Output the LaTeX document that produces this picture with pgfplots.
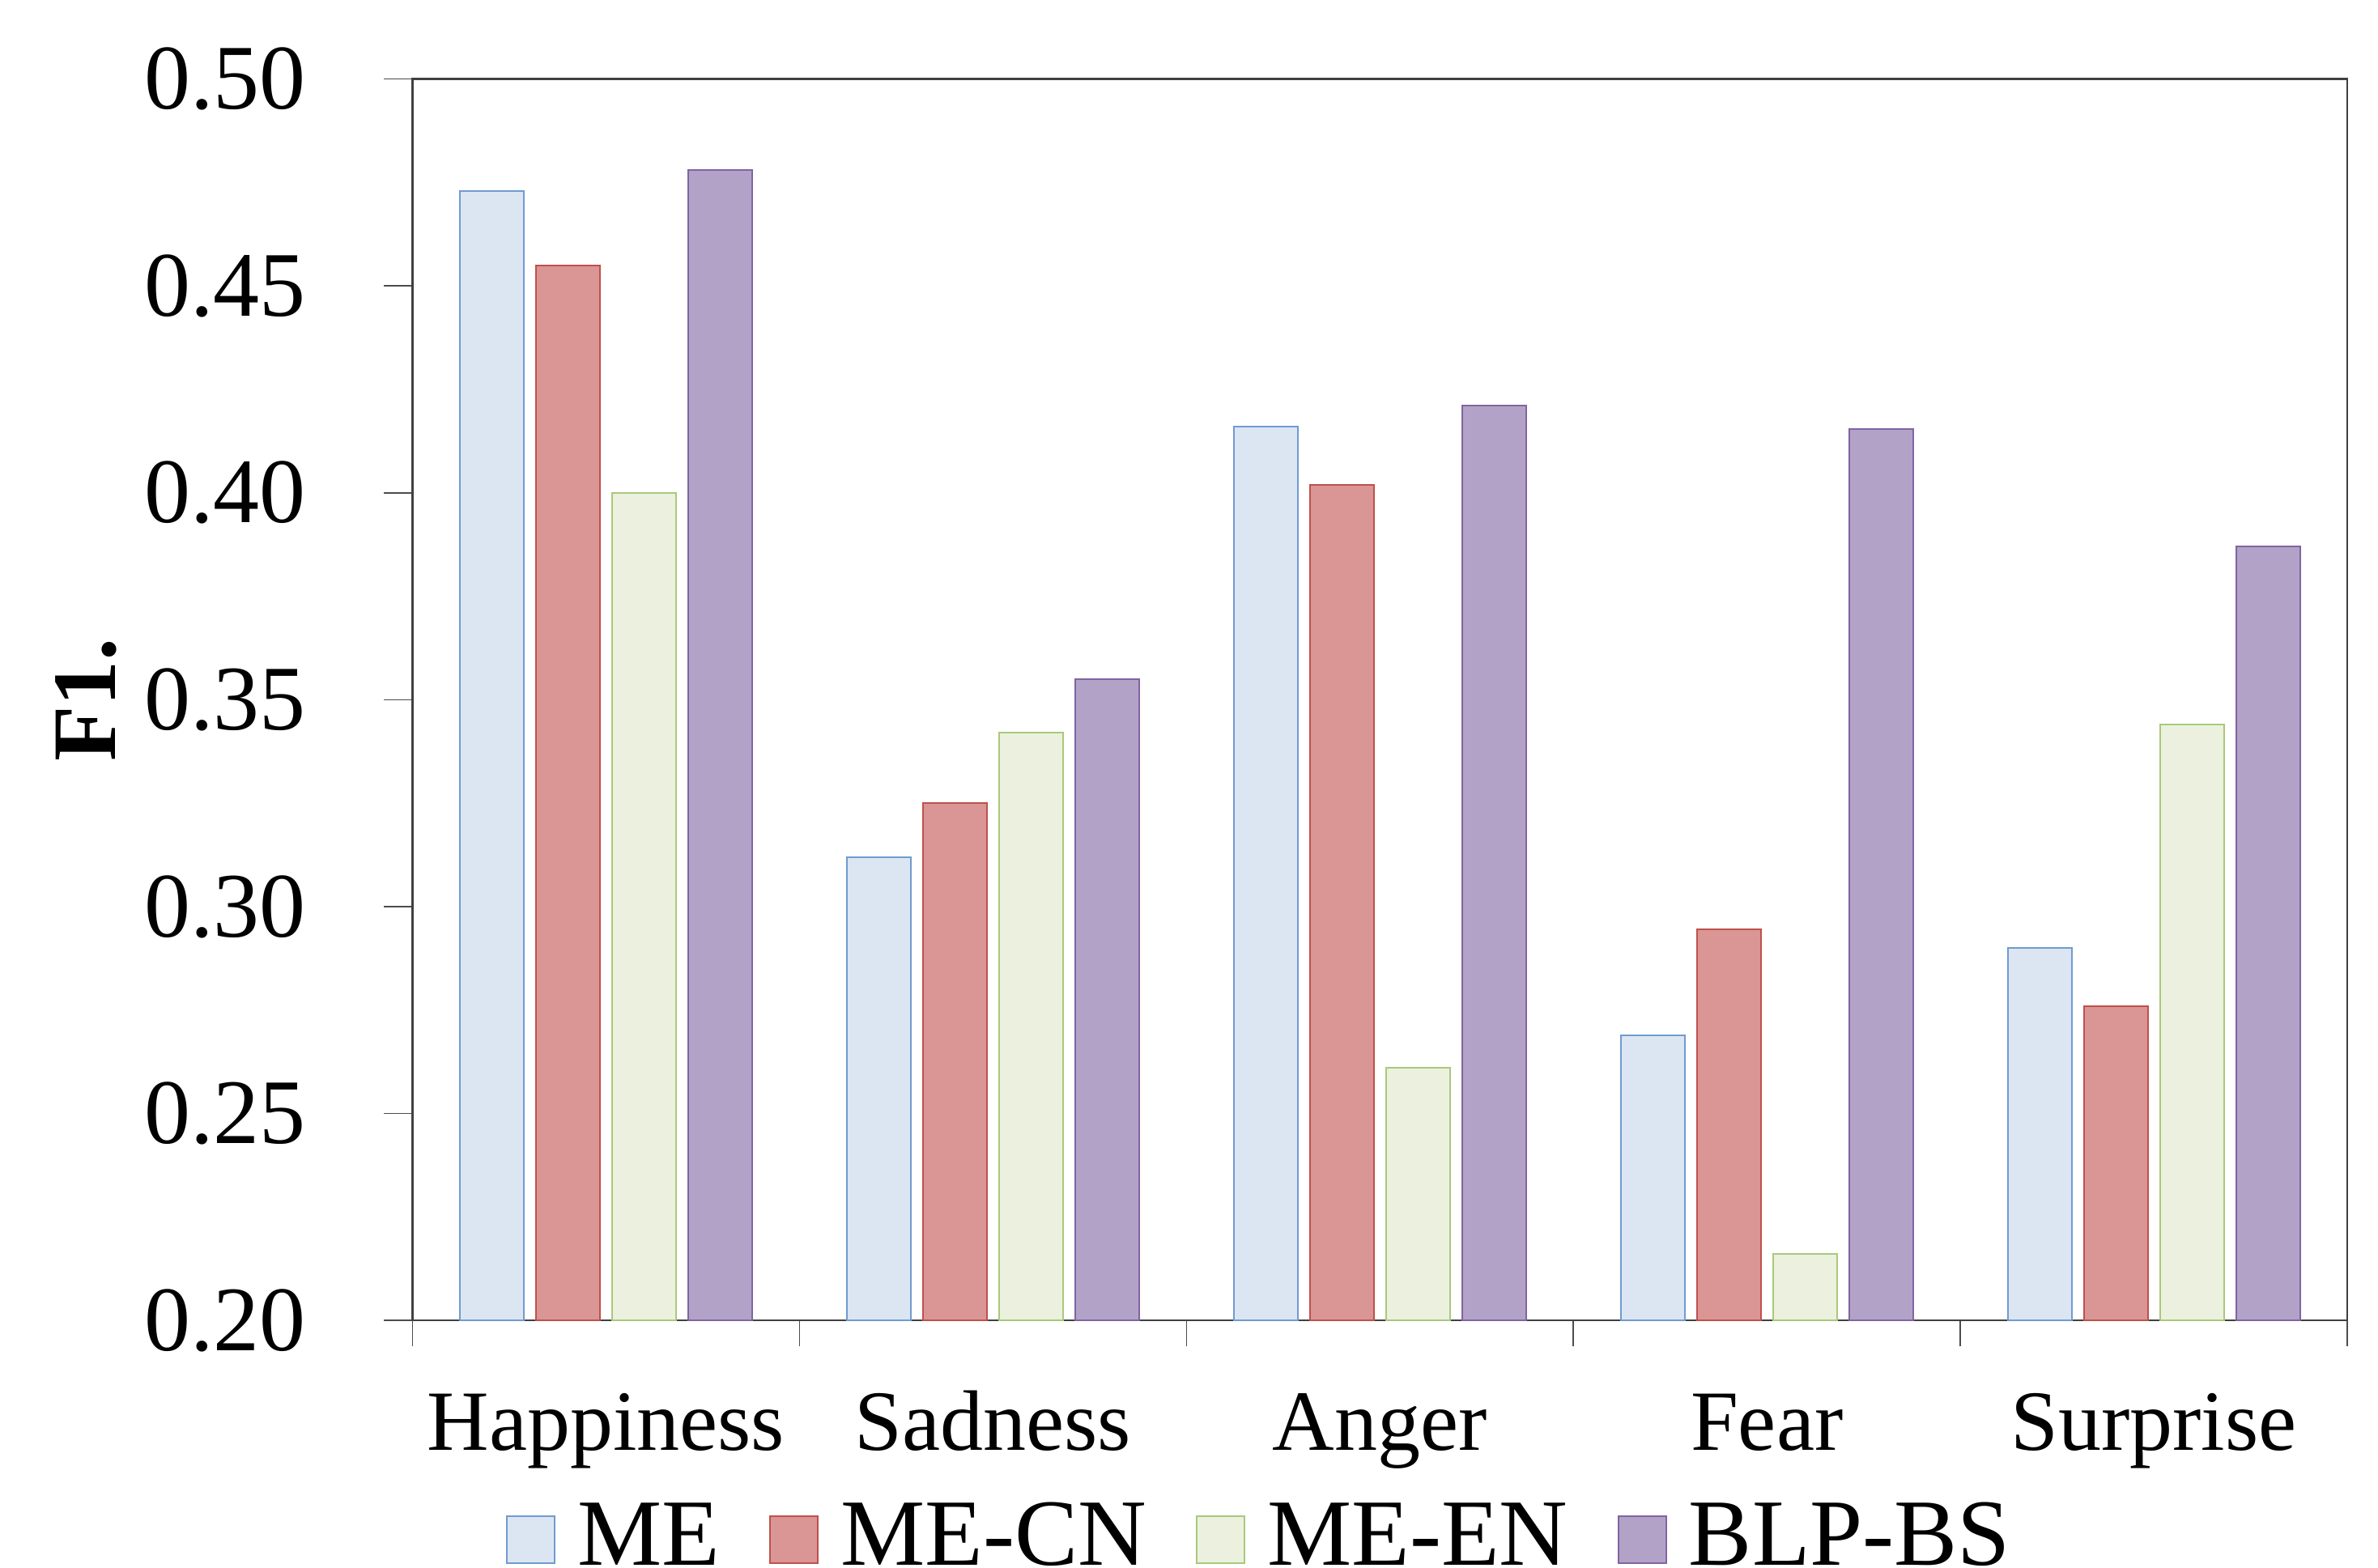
\documentclass[border=0pt]{standalone}
\usepackage{fontspec}
\setmainfont{Liberation Serif}
\usepackage{pgfplots}
\pgfplotsset{compat=1.18}
\definecolor{meF}{HTML}{DCE6F2}\definecolor{meD}{HTML}{6F9BD1}
\definecolor{cnF}{HTML}{D99694}\definecolor{cnD}{HTML}{C0504D}
\definecolor{enF}{HTML}{EBF1DE}\definecolor{enD}{HTML}{A9C97A}
\definecolor{bsF}{HTML}{B3A2C7}\definecolor{bsD}{HTML}{8064A2}
\begin{document}
\begin{tikzpicture}
\begin{axis}[
  scale only axis, width=597.5pt, height=383.5pt,
  xmin=-0.5, xmax=4.5, ymin=0.2, ymax=0.5,
  ybar=3.75pt, bar width=19.75pt,
  axis line style={draw=black!75, line width=0.6pt},
  xtick={0,1,2,3,4},
  xticklabels={Happiness,Sadness,Anger,Fear,Surprise},
  major x tick style={draw=none},
  minor xtick={-0.5,0.5,1.5,2.5,3.5,4.5},
  minor tick length=8pt,
  minor x tick style={draw=black!70, line width=0.4pt},
  ytick={0.20,0.25,0.30,0.35,0.40,0.45,0.50},
  yticklabels={0.20,0.25,0.30,0.35,0.40,0.45,0.50},
  major tick length=8.75pt,
  major y tick style={draw=black!70, line width=0.4pt},
  tick align=outside, tick pos=left,
  xticklabel style={font=\fontsize{26.5}{30}\selectfont, anchor=base, inner sep=0pt, yshift=-31.25pt},
  yticklabel style={font=\fontsize{28.5}{32}\selectfont, anchor=east, inner sep=0pt, xshift=-24pt},
  ylabel={\textbf{F1.}},
  ylabel style={font=\fontsize{28}{32}\selectfont, at={(axis description cs:-0.1536,0.5)}, anchor=base, inner sep=0pt},
  legend columns=4,
  legend style={at={(axis description cs:0,0)}, anchor=north west, xshift=28.75pt, yshift=-56pt,
    draw=none, fill=none, inner sep=0pt,
    font=\fontsize{29.3}{33}\selectfont,
    nodes={inner sep=0pt, anchor=base west},
    /tikz/every odd column/.append style={column sep=6.8pt},
    /tikz/every even column/.append style={column sep=15.3pt}},
  legend image code/.code={\draw[#1] (0pt,0.75pt) rectangle (14.75pt,15.25pt);},
]
\addplot[fill=meF, draw=meD, line width=0.5pt] coordinates {(0,0.473) (1,0.312) (2,0.416) (3,0.269) (4,0.290)};
\addplot[fill=cnF, draw=cnD, line width=0.5pt] coordinates {(0,0.455) (1,0.325) (2,0.402) (3,0.2945) (4,0.276)};
\addplot[fill=enF, draw=enD, line width=0.5pt] coordinates {(0,0.400) (1,0.342) (2,0.261) (3,0.216) (4,0.344)};
\addplot[fill=bsF, draw=bsD, line width=0.5pt] coordinates {(0,0.478) (1,0.355) (2,0.421) (3,0.4155) (4,0.387)};
\legend{ME,ME-CN,ME-EN,BLP-BS}
\coordinate (bl) at (axis description cs:0,0);
\coordinate (tr) at (axis description cs:1,1);
\end{axis}
\pgfresetboundingbox
\path ([xshift=-127.4pt,yshift=-76.25pt]bl) rectangle ([xshift=9.5pt,yshift=24.4pt]tr);
\end{tikzpicture}
\end{document}
